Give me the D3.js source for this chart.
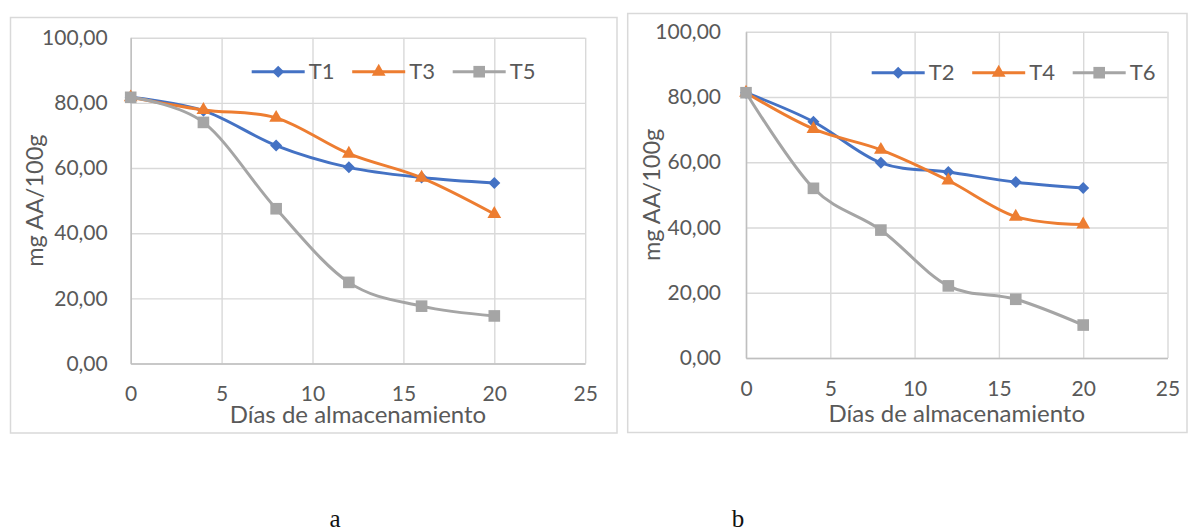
<!DOCTYPE html>
<html>
<head>
<meta charset="utf-8">
<script src="https://cdn.jsdelivr.net/npm/d3@7"></script>
<style>
  html, body { margin: 0; padding: 0; background: #fff; }
  svg text { font-family: Lato, 'Noto Sans', sans-serif; fill: #595959; }
</style>
</head>
<body>
<svg id="chart" width="1188" height="531"></svg>
<script>
// días de almacenamiento
let days = [0, 4, 8, 12, 16, 20];
let xTicks = [0, 5, 10, 15, 20, 25];
let yTicks = [0, 20, 40, 60, 80, 100];

// panel a
let t1 = [81.7, 77.6, 66.9, 60.2, 57.1, 55.4];
let t3 = [81.7, 77.8, 75.4, 64.4, 57.0, 45.9];
let t5 = [81.7, 74.0, 47.5, 24.9, 17.6, 14.6];

// panel b
let t2 = [81.3, 72.4, 59.8, 57.0, 53.9, 52.1];
let t4 = [81.3, 70.2, 63.8, 54.4, 43.3, 40.9];
let t6 = [81.3, 52.0, 39.2, 22.1, 18.0, 10.1];

let namesA = ['T1', 'T3', 'T5'];
let namesB = ['T2', 'T4', 'T6'];
let panelLabels = ['a', 'b'];

let colors = ['#4472C4', '#ED7D31', '#A5A5A5'];

let xTitle = 'Días de almacenamiento';
let yTitle = 'mg AA/100g';

let svg = d3.select('#chart');

// 0: rombo, 1: triángulo, 2: cuadrado
function drawMarker(g, idx, cx, cy, color) {
	let shape, size, rot = 0;
	if (idx === 0) { shape = d3.symbolSquare; size = 72; rot = 45; }
	else if (idx === 1) { shape = d3.symbolTriangle; size = 82; }
	else { shape = d3.symbolSquare; size = 135; }
	g.append('path')
		.attr('d', d3.symbol(shape, size)())
		.attr('transform', 'translate(' + cx + ',' + cy + ') rotate(' + rot + ')')
		.attr('fill', color);
}

function getGraph(cfg) {
	// outer frame
	svg.append('rect')
		.attr('x', cfg.frame[0])
		.attr('y', cfg.frame[1])
		.attr('width', cfg.frame[2] - cfg.frame[0])
		.attr('height', cfg.frame[3] - cfg.frame[1])
		.attr('fill', 'none')
		.attr('stroke', '#D9D9D9')
		.attr('stroke-width', 1.5);

	let left = cfg.plot[0], top = cfg.plot[1], right = cfg.plot[2], bottom = cfg.plot[3];
	let width = right - left;
	let height = bottom - top;

	let chart = svg.append('g')
		.attr('transform', 'translate(' + left + ', ' + top + ')');

	let x = d3.scaleLinear().domain([0, 25]).range([0, width]);
	let y = d3.scaleLinear().domain([0, 100]).range([height, 0]);

	// grid
	let xGrid = chart.append('g')
		.attr('transform', 'translate(0, ' + height + ')')
		.call(d3.axisBottom(x).tickValues(xTicks).tickSize(-height).tickFormat(''));
	let yGrid = chart.append('g')
		.call(d3.axisLeft(y).tickValues(yTicks).tickSize(-width).tickFormat(''));
	[xGrid, yGrid].forEach(function(gr) {
		gr.select('.domain').remove();
		gr.selectAll('line').attr('stroke', '#D9D9D9').attr('stroke-width', 1.4);
	});

	// axis lines
	let xAxis = chart.append('g')
		.attr('transform', 'translate(0, ' + height + ')')
		.call(d3.axisBottom(x).tickValues(xTicks).tickSize(0).tickPadding(23));
	xAxis.select('.domain').attr('stroke', '#BFBFBF').attr('stroke-width', 1.5);
	xAxis.selectAll('text').attr('font-size', 21).attr('fill', '#595959')
		.style('font-family', 'Lato, sans-serif');

	let yAxis = chart.append('g')
		.call(d3.axisLeft(y).tickValues(yTicks).tickSize(0).tickPadding(cfg.yPad)
			.tickFormat(d => d3.format('.2f')(d).replace('.', ',')));
	yAxis.select('.domain').attr('stroke', '#BFBFBF').attr('stroke-width', 1.5);
	yAxis.selectAll('text').attr('font-size', 21).attr('fill', '#595959')
		.style('font-family', 'Lato, sans-serif');

	// titles
	chart.append('text')
		.attr('x', width / 2)
		.attr('y', height + cfg.xTitleDy)
		.attr('text-anchor', 'middle')
		.attr('font-size', 24)
		.text(xTitle);

	chart.append('text')
		.attr('transform', 'translate(' + (-cfg.yTitleDx) + ', ' + (height / 2) + ') rotate(-90)')
		.attr('text-anchor', 'middle')
		.attr('dy', '0.35em')
		.attr('font-size', 23.5)
		.text(yTitle);

	// series
	cfg.series.forEach(function(vals, idx) {
		let data = days.map((d, i) => ({ day: d, v: vals[i] }));
		let line = d3.line()
			.x(d => x(d.day))
			.y(d => y(d.v))
			.curve(d3.curveCardinal.tension(0));
		chart.append('path')
			.datum(data)
			.attr('fill', 'none')
			.attr('stroke', colors[idx])
			.attr('stroke-width', 3)
			.attr('d', line);
		data.forEach(function(d) {
			drawMarker(chart, idx, x(d.day), y(d.v), colors[idx]);
		});
	});

	// legend
	cfg.names.forEach(function(name, idx) {
		let lx = cfg.legend[0] + idx * cfg.legend[2];
		let ly = cfg.legend[1];
		let lg = svg.append('g');
		lg.append('line')
			.attr('x1', lx).attr('x2', lx + 53)
			.attr('y1', ly).attr('y2', ly)
			.attr('stroke', colors[idx])
			.attr('stroke-width', 3);
		drawMarker(lg, idx, lx + 26.5, ly, colors[idx]);
		lg.append('text')
			.attr('x', lx + 57)
			.attr('y', ly)
			.attr('dy', '0.35em')
			.attr('font-size', 22)
			.text(name);
	});

	// panel letter
	svg.append('text')
		.attr('x', cfg.letter[0])
		.attr('y', cfg.letter[1])
		.attr('text-anchor', 'middle')
		.attr('font-size', 25)
		.style('font-family', "'Liberation Serif', serif")
		.style('fill', '#111')
		.text(cfg.label);
}

getGraph({
	frame: [10.5, 17.5, 617, 433],
	plot: [130.7, 37.7, 585.2, 363.5],
	series: [t1, t3, t5],
	names: namesA,
	legend: [251.7, 71.7, 100.5],
	yPad: 23,
	xTitleDy: 60,
	yTitleDx: 95.7,
	letter: [335, 527],
	label: panelLabels[0]
});

getGraph({
	frame: [627.7, 13.5, 1187, 432.5],
	plot: [746, 31.7, 1167.5, 358],
	series: [t2, t4, t6],
	names: namesB,
	legend: [871.7, 72.7, 100.5],
	yPad: 25,
	xTitleDy: 64,
	yTitleDx: 94,
	letter: [738, 527],
	label: panelLabels[1]
});
</script>
</body>
</html>
